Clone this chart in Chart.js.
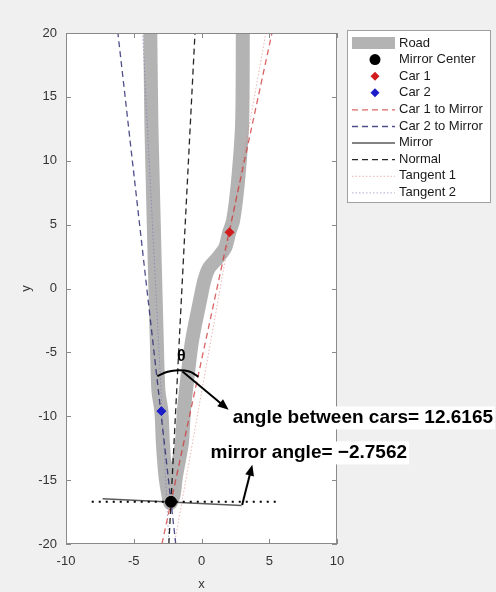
<!DOCTYPE html>
<html>
<head>
<meta charset="utf-8">
<script src="https://cdn.jsdelivr.net/npm/chart.js@4.4.0/dist/chart.umd.min.js"></script>
<style>
  html, body { margin: 0; padding: 0; background: #f0f0f0; }
  #wrap { width: 496px; height: 592px; }
</style>
</head>
<body>
<div id="wrap"><canvas id="mirrorChart" width="496" height="592"></canvas></div>
<script>
// values
const xTicks = [-10, -5, 0, 5, 10];
const yTicks = [-20, -15, -10, -5, 0, 5, 10, 15, 20];

// road centre line: left branch top->bottom, then right branch bottom->top
const roadX = [-3.78, -3.7, -3.6, -3.45, -3.3, -3.18, -2.96, -2.85, -2.65, -2.45, -2.3,
               -2.05, -1.9, -1.45, -1.3, -1.15, -0.7, -0.1, 0.2, 0.55, 1.2, 1.75, 2.05, 2.33, 2.7, 3.0, 3.05];
const roadY = [20, 13, 8.45, 2, -4.1, -8.0, -9.6, -12.1, -14.8, -16.1, -16.8,
               -16.1, -14.8, -12.1, -9.6, -8.0, -4.1, -0.9, 0.6, 1.6, 2.4, 3.2, 4.4, 5.3, 8.45, 13, 20];

const mirrorX = [-2.25], mirrorY = [-16.7];
const car1X = [2.07], car1Y = [4.4];
const car2X = [-2.96], car2Y = [-9.6];

const lineY = [-20, 20];
const car1LineX = [-2.92, 5.2];
const car2LineX = [-1.9, -6.17];
const normalX = [-2.41, -0.48];
const tangent1X = [-2.0, 4.75];
const tangent2X = [-2.4, -4.35];
const mirrorLineX = [-7.3, 2.96], mirrorLineY = [-16.45, -16.98];
const levelX = [-8.1, 5.6], levelY = [-16.7, -16.7];

const arcX = [-3.26, -2.5, -1.7, -0.9, -0.22];
const arcY = [-6.85, -6.52, -6.4, -6.5, -6.9];

const legendOrder = ["Road", "Mirror Center", "Car 1", "Car 2", "Car 1 to Mirror",
                     "Car 2 to Mirror", "Mirror", "Normal", "Tangent 1", "Tangent 2"];

const notes = {
    theta: { x: -1.48, y: -5.3, text: "\u03b8" },
    arrows: [
        { from: [-1.4, -6.5], to: [2.0, -9.5] },
        { from: [3.0, -16.95], to: [3.75, -13.8] }
    ],
    labels: [
        { x: 2.3, y: -10.56, text: "angle between cars= 12.6165" },
        { x: 0.67, y: -13.3, text: "mirror angle= \u22122.7562" }
    ]
};

function pts(xs, ys) {
    return xs.map((x, i) => ({ x: x, y: ys[i] }));
}

function lineSet(label, xs, ys, color, dash, width, order) {
    return {
        label: label,
        data: pts(xs, ys),
        showLine: true,
        borderColor: color,
        borderDash: dash,
        borderWidth: width,
        pointRadius: 0,
        clip: 0,
        order: order
    };
}

function markerSet(label, xs, ys, style, radius, color) {
    return {
        label: label,
        data: pts(xs, ys),
        showLine: false,
        pointStyle: style,
        pointRadius: radius,
        pointBackgroundColor: color,
        pointBorderColor: color,
        pointBorderWidth: 1,
        clip: 0,
        order: 0
    };
}

const FONT = "'Liberation Sans', Arial, sans-serif";

// white plot area, box, inside ticks
const framePlugin = {
    id: "frame",
    beforeDraw(chart) {
        const ctx = chart.ctx;
        ctx.save();
        ctx.fillStyle = "#f0f0f0";
        ctx.fillRect(0, 0, chart.width, chart.height);
        ctx.restore();
    },
    beforeDatasetsDraw(chart) {
        const { ctx, chartArea: a } = chart;
        ctx.save();
        ctx.fillStyle = "#ffffff";
        ctx.fillRect(a.left, a.top, a.right - a.left, a.bottom - a.top);
        ctx.restore();
    },
    afterDatasetsDraw(chart) {
        const { ctx, chartArea: a, scales } = chart;
        ctx.save();
        ctx.strokeStyle = "#8a8a8a";
        ctx.lineWidth = 1;
        ctx.strokeRect(a.left + 0.5, a.top + 0.5, a.right - a.left - 1, a.bottom - a.top - 1);
        ctx.beginPath();
        xTicks.forEach(v => {
            const px = Math.round(scales.x.getPixelForValue(v)) + 0.5;
            ctx.moveTo(px, a.bottom); ctx.lineTo(px, a.bottom - 5);
            ctx.moveTo(px, a.top); ctx.lineTo(px, a.top + 5);
        });
        yTicks.forEach(v => {
            const py = Math.round(scales.y.getPixelForValue(v)) + 0.5;
            ctx.moveTo(a.left, py); ctx.lineTo(a.left + 5, py);
            ctx.moveTo(a.right, py); ctx.lineTo(a.right - 5, py);
        });
        ctx.stroke();
        ctx.restore();
    }
};

function drawArrow(ctx, x1, y1, x2, y2) {
    const ang = Math.atan2(y2 - y1, x2 - x1);
    const len = 11, half = 4.5;
    ctx.beginPath();
    ctx.moveTo(x1, y1);
    ctx.lineTo(x2 - Math.cos(ang) * len * 0.8, y2 - Math.sin(ang) * len * 0.8);
    ctx.stroke();
    ctx.beginPath();
    ctx.moveTo(x2, y2);
    ctx.lineTo(x2 - Math.cos(ang) * len - Math.sin(ang) * half, y2 - Math.sin(ang) * len + Math.cos(ang) * half);
    ctx.lineTo(x2 - Math.cos(ang) * len + Math.sin(ang) * half, y2 - Math.sin(ang) * len - Math.cos(ang) * half);
    ctx.closePath();
    ctx.fill();
}

// theta, arrows and the two text boxes
const notesPlugin = {
    id: "notes",
    afterDraw(chart) {
        const { ctx, scales } = chart;
        const X = v => scales.x.getPixelForValue(v);
        const Y = v => scales.y.getPixelForValue(v);
        ctx.save();
        ctx.fillStyle = "#000";
        ctx.strokeStyle = "#000";
        ctx.lineWidth = 2;

        ctx.font = "bold 16px " + FONT;
        ctx.textAlign = "center";
        ctx.textBaseline = "middle";
        ctx.fillText(notes.theta.text, X(notes.theta.x), Y(notes.theta.y));

        notes.arrows.forEach(a => {
            drawArrow(ctx, X(a.from[0]), Y(a.from[1]), X(a.to[0]), Y(a.to[1]));
        });

        ctx.font = "bold 19px " + FONT;
        ctx.textAlign = "left";
        ctx.textBaseline = "alphabetic";
        notes.labels.forEach(l => {
            const px = X(l.x), py = Y(l.y);
            const w = ctx.measureText(l.text).width;
            ctx.fillStyle = "#ffffff";
            ctx.fillRect(px - 2, py - 17, w + 4, 23);
            ctx.fillStyle = "#000";
            ctx.fillText(l.text, px, py);
        });
        ctx.restore();
    }
};

// MATLAB-style legend box to the right of the axes
const legendPlugin = {
    id: "boxLegend",
    afterDraw(chart) {
        const ctx = chart.ctx;
        const bx = 347, by = 30, bw = 143, bh = 172;
        const row0 = 43, step = 16.6;
        const sx0 = 352, sx1 = 395, mx = 375, tx = 399;
        ctx.save();
        ctx.fillStyle = "#ffffff";
        ctx.fillRect(bx, by, bw, bh);
        ctx.strokeStyle = "#a0a0a0";
        ctx.lineWidth = 1;
        ctx.strokeRect(bx + 0.5, by + 0.5, bw, bh);

        legendOrder.forEach((name, i) => {
            const ds = chart.data.datasets.find(d => d.label === name);
            const y = row0 + i * step;
            ctx.save();
            if (name === "Road") {
                ctx.fillStyle = ds.borderColor;
                ctx.fillRect(sx0, y - 6, sx1 - sx0, 12);
            } else if (!ds.showLine) {
                ctx.fillStyle = ds.pointBackgroundColor;
                ctx.beginPath();
                const r = ds.pointRadius;
                if (ds.pointStyle === "circle") {
                    ctx.arc(mx, y, r, 0, Math.PI * 2);
                } else {
                    ctx.moveTo(mx, y - r); ctx.lineTo(mx + r, y);
                    ctx.lineTo(mx, y + r); ctx.lineTo(mx - r, y);
                    ctx.closePath();
                }
                ctx.fill();
            } else {
                ctx.strokeStyle = ds.borderColor;
                ctx.lineWidth = ds.borderWidth;
                ctx.setLineDash(ds.borderDash || []);
                ctx.beginPath();
                ctx.moveTo(sx0, y + 0.5);
                ctx.lineTo(sx1, y + 0.5);
                ctx.stroke();
            }
            ctx.restore();
            ctx.fillStyle = "#1a1a1a";
            ctx.font = "13px " + FONT;
            ctx.textBaseline = "middle";
            ctx.textAlign = "left";
            ctx.fillText(name, tx, y);
        });
        ctx.restore();
    }
};

const chart = new Chart(document.getElementById("mirrorChart"), {
    type: "scatter",
    data: {
        datasets: [
            markerSet("Mirror Center", mirrorX, mirrorY, "circle", 5.5, "#000000"),
            markerSet("Car 1", car1X, car1Y, "rectRot", 4.5, "#d01c1c"),
            markerSet("Car 2", car2X, car2Y, "rectRot", 4.5, "#1c1cc8"),
            lineSet("Car 1 to Mirror", car1LineX, lineY, "rgba(205, 50, 50, 0.75)", [6, 4], 1.3, 2),
            lineSet("Car 2 to Mirror", car2LineX, lineY, "rgba(35, 35, 110, 0.8)", [6, 4], 1.3, 2),
            lineSet("Mirror", mirrorLineX, mirrorLineY, "#5a5a5a", [], 1.5, 2),
            lineSet("Normal", normalX, lineY, "rgba(0, 0, 0, 0.85)", [6, 4], 1.3, 2),
            lineSet("Tangent 1", tangent1X, lineY, "rgba(215, 120, 120, 0.55)", [1.5, 2], 1, 3),
            lineSet("Tangent 2", tangent2X, lineY, "rgba(110, 110, 180, 0.55)", [1.5, 2], 1, 3),
            lineSet("level", levelX, levelY, "#000000", [2, 5], 2, 1),
            Object.assign(lineSet("arc", arcX, arcY, "#000000", [], 2, 1), { tension: 0.4 }),
            Object.assign(lineSet("Road", roadX, roadY, "#b3b3b3", [], 14, 10), {
                tension: 0.25,
                borderJoinStyle: "round",
                borderCapStyle: "butt"
            })
        ]
    },
    options: {
        responsive: false,
        animation: false,
        events: [],
        layout: { padding: { top: 33, right: 159, left: 0, bottom: 0 } },
        plugins: {
            legend: { display: false },
            tooltip: { enabled: false }
        },
        scales: {
            x: {
                type: "linear",
                min: -10, max: 10,
                afterBuildTicks: axis => { axis.ticks = xTicks.map(v => ({ value: v })); },
                afterFit: axis => { axis.height = 48; },
                grid: { display: false, drawTicks: false },
                border: { display: false },
                ticks: { padding: 10, color: "#333", font: { family: FONT, size: 13 } },
                title: { display: true, text: "x", color: "#333", font: { family: FONT, size: 13 },
                         padding: { top: 4, bottom: 0 } }
            },
            y: {
                type: "linear",
                min: -20, max: 20,
                afterBuildTicks: axis => { axis.ticks = yTicks.map(v => ({ value: v })); },
                afterFit: axis => { axis.width = 66; },
                grid: { display: false, drawTicks: false },
                border: { display: false },
                ticks: { padding: 9, color: "#333", font: { family: FONT, size: 13 } },
                title: { display: true, text: "y", color: "#333", font: { family: FONT, size: 13 },
                         padding: { top: 19, bottom: 0 } }
            }
        }
    },
    plugins: [framePlugin, notesPlugin, legendPlugin]
});
</script>
</body>
</html>
